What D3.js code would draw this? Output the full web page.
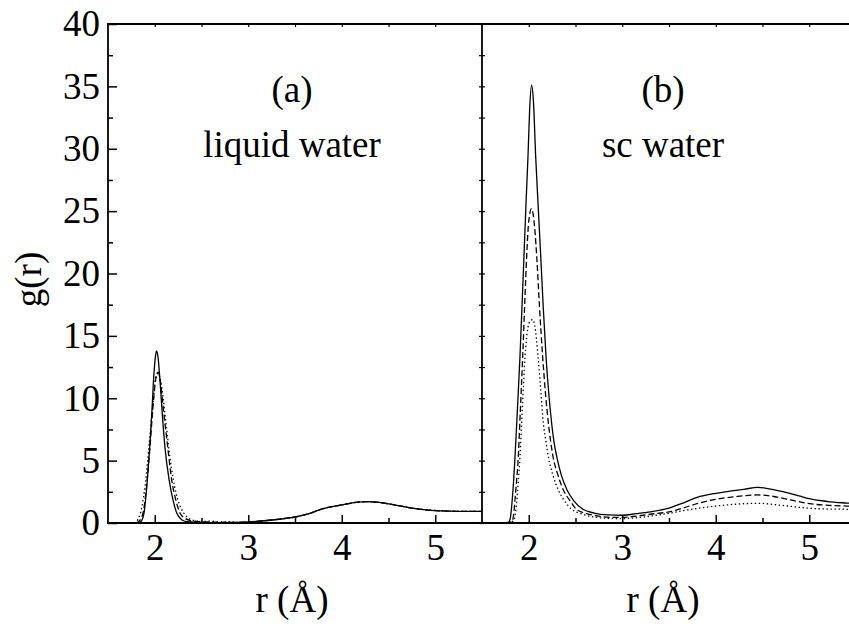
<!DOCTYPE html>
<html>
<head>
<meta charset="utf-8">
<script src="https://cdn.jsdelivr.net/npm/d3@7"></script>
<style>
  html, body { margin: 0; padding: 0; background: #fff; }
  svg { display: block; }
  text { font-family: "Liberation Serif", "Times New Roman", serif; fill: #000; }
</style>
</head>
<body>
<svg id="chart" width="849" height="631"></svg>
<script>
// Radial distribution functions g(r): three curves per panel (solid, dashed, dotted)
const panels = ["liquid water", "sc water"];
const panelTags = ["(a)", "(b)"];

// (a) liquid water
const liqR_solid = [1.75, 1.82, 1.85, 1.885, 1.92, 1.95, 1.97, 1.99, 2.01, 2.02, 2.035, 2.06, 2.08, 2.11, 2.155, 2.20, 2.235, 2.27, 2.30, 2.35, 2.45, 2.6, 2.8, 3.0, 3.2, 3.35, 3.5, 3.65, 3.8, 4.0, 4.15, 4.27, 4.4, 4.5, 4.65, 4.75, 4.9, 5.0, 5.15, 5.3, 5.5];
const liqG_solid = [0, 0, 0.1, 0.8, 3.4, 6.5, 9.0, 11.8, 13.5, 13.8, 13.3, 11.0, 8.8, 6.0, 3.4, 1.7, 0.8, 0.4, 0.2, 0.1, 0.05, 0.03, 0.03, 0.08, 0.2, 0.32, 0.48, 0.75, 1.15, 1.45, 1.65, 1.71, 1.65, 1.53, 1.33, 1.2, 1.06, 1.0, 0.95, 0.93, 0.93];

const liqR_dash = [1.80, 1.84, 1.88, 1.92, 1.95, 1.98, 2.01, 2.035, 2.06, 2.08, 2.10, 2.14, 2.18, 2.22, 2.27, 2.32, 2.38, 2.45, 2.6, 2.8, 3.0, 3.2, 3.35, 3.5, 3.65, 3.8, 4.0, 4.15, 4.27, 4.4, 4.5, 4.65, 4.75, 4.9, 5.0, 5.15, 5.3, 5.5];
const liqG_dash = [0, 0.2, 1.0, 3.5, 6.2, 9.2, 11.5, 12.1, 11.4, 10.0, 8.6, 6.0, 3.5, 2.0, 0.8, 0.4, 0.2, 0.12, 0.08, 0.05, 0.08, 0.2, 0.32, 0.48, 0.75, 1.15, 1.45, 1.65, 1.71, 1.65, 1.53, 1.33, 1.2, 1.06, 1.0, 0.95, 0.93, 0.93];

const liqR_dot = [1.78, 1.82, 1.86, 1.90, 1.94, 1.98, 2.01, 2.035, 2.06, 2.09, 2.12, 2.16, 2.20, 2.25, 2.31, 2.36, 2.42, 2.5, 2.6, 2.7, 2.8, 2.9, 3.0, 3.2, 3.35, 3.5, 3.65, 3.8, 4.0, 4.15, 4.27, 4.4, 4.5, 4.65, 4.75, 4.9, 5.0, 5.15, 5.3, 5.5];
const liqG_dot = [0, 0.3, 1.2, 3.2, 6.3, 9.5, 11.6, 12.0, 11.5, 10.0, 8.0, 5.4, 3.4, 1.8, 0.8, 0.4, 0.2, 0.12, 0.15, 0.06, 0.1, 0.05, 0.08, 0.2, 0.32, 0.48, 0.75, 1.15, 1.45, 1.65, 1.71, 1.65, 1.53, 1.33, 1.2, 1.06, 1.0, 0.95, 0.93, 0.93];

// (b) supercritical water
const scR_solid = [1.70, 1.78, 1.80, 1.83, 1.853, 1.88, 1.906, 1.93, 1.949, 1.97, 1.992, 2.01, 2.03, 2.05, 2.074, 2.10, 2.128, 2.155, 2.185, 2.215, 2.245, 2.27, 2.30, 2.35, 2.41, 2.48, 2.58, 2.7, 2.85, 3.0, 3.15, 3.3, 3.5, 3.65, 3.8, 4.0, 4.15, 4.3, 4.45, 4.6, 4.75, 4.9, 5.0, 5.2, 5.4, 5.5];
const scG_solid = [0, 0.05, 0.3, 2.5, 5.3, 9.3, 13.3, 17.8, 21.4, 25.5, 29.4, 33.2, 35.1, 33.8, 29.4, 25.5, 21.4, 17.3, 13.3, 10.3, 8.0, 6.5, 5.3, 3.8, 2.65, 1.8, 1.1, 0.8, 0.65, 0.62, 0.75, 0.9, 1.2, 1.6, 2.05, 2.38, 2.55, 2.7, 2.86, 2.7, 2.45, 2.15, 1.95, 1.72, 1.6, 1.55];

const scR_dash = [1.75, 1.82, 1.835, 1.86, 1.888, 1.91, 1.935, 1.955, 1.978, 2.0, 2.03, 2.055, 2.085, 2.115, 2.149, 2.18, 2.21, 2.235, 2.26, 2.31, 2.37, 2.44, 2.51, 2.62, 2.75, 2.9, 3.0, 3.15, 3.3, 3.5, 3.65, 3.8, 4.0, 4.2, 4.45, 4.6, 4.8, 5.0, 5.2, 5.4, 5.5];
const scG_dash = [0, 0.1, 0.5, 2.5, 5.3, 9.0, 13.3, 17.2, 21.4, 24.2, 25.2, 24.3, 21.4, 17.3, 13.3, 10.3, 8.0, 6.5, 5.3, 3.9, 2.65, 1.8, 1.1, 0.75, 0.55, 0.45, 0.45, 0.55, 0.7, 0.9, 1.2, 1.55, 1.9, 2.1, 2.25, 2.15, 1.85, 1.55, 1.42, 1.36, 1.33];

const scR_dot = [1.78, 1.84, 1.87, 1.89, 1.906, 1.93, 1.96, 1.99, 2.015, 2.04, 2.065, 2.10, 2.13, 2.156, 2.185, 2.21, 2.26, 2.316, 2.38, 2.46, 2.58, 2.72, 2.85, 3.0, 3.15, 3.3, 3.5, 3.7, 3.85, 4.0, 4.2, 4.45, 4.7, 5.0, 5.2, 5.4, 5.5];
const scG_dot = [0, 0.2, 1.6, 3.5, 5.3, 9.0, 13.3, 15.6, 16.2, 16.3, 15.8, 13.3, 10.5, 8.0, 6.5, 5.3, 3.8, 2.65, 1.8, 1.1, 0.7, 0.45, 0.38, 0.35, 0.42, 0.55, 0.78, 1.05, 1.22, 1.36, 1.5, 1.58, 1.42, 1.18, 1.12, 1.1, 1.08];

// Axis ticks
const yMajor = [0, 5, 10, 15, 20, 25, 30, 35, 40];
const yMinor = [2.5, 7.5, 12.5, 17.5, 22.5, 27.5, 32.5, 37.5];
const xMajor = [2, 3, 4, 5];
const xMinor = [2.5, 3.5, 4.5];
const xDomain = [1.5, 5.5];
const yDomain = [0, 40];
const yTitle = "g(r)";
const xTitle = "r (Å)";

const svg = d3.select("#chart");
const W = 849, H = 631;
const plotTop = 24, plotBottom = 523;
const panelW = 374;
const lefts = [108, 482];
const FS = 37;

const y = d3.scaleLinear().domain(yDomain).range([plotBottom, plotTop]);

const styles = [
  { dash: null },
  { dash: "6,3" },
  { dash: "1.4,2.6" }
];

const series = [
  [[liqR_solid, liqG_solid], [liqR_dash, liqG_dash], [liqR_dot, liqG_dot]],
  [[scR_solid, scG_solid], [scR_dash, scG_dash], [scR_dot, scG_dot]]
];

const defs = svg.append("defs");

panels.forEach((name, p) => {
  const x0 = lefts[p];
  const x = d3.scaleLinear().domain(xDomain).range([x0, x0 + panelW]);
  const right = Math.min(x0 + panelW, W);
  const g = svg.append("g");

  defs.append("clipPath").attr("id", "clip" + p)
    .append("rect").attr("x", x0).attr("y", plotTop - 1).attr("width", right - x0).attr("height", plotBottom - plotTop + 1);

  // curves
  const line = d3.line().x(d => x(d[0])).y(d => y(d[1])).curve(d3.curveMonotoneX);
  series[p].forEach((s, i) => {
    const pts = s[0].map((r, k) => [r, s[1][k]]);
    g.append("path")
      .attr("clip-path", `url(#clip${p})`)
      .attr("d", line(pts))
      .attr("fill", "none")
      .attr("stroke", "#000")
      .attr("stroke-width", 1.3)
      .attr("stroke-dasharray", styles[i].dash);
  });

  // bottom axis with inward ticks
  const bx = g.append("g").attr("transform", `translate(0,${plotBottom})`)
    .call(d3.axisBottom(x).tickValues(xMajor).tickSize(-8).tickPadding(11).tickFormat(d3.format("d")));
  bx.select(".domain").remove();
  bx.selectAll("line").attr("stroke-width", 1.5);
  bx.selectAll("text").attr("font-size", FS).attr("dy", "0.71em");
  const bm = g.append("g").attr("transform", `translate(0,${plotBottom})`)
    .call(d3.axisBottom(x).tickValues(xMinor).tickSize(-5).tickFormat(""));
  bm.select(".domain").remove();
  bm.selectAll("line").attr("stroke-width", 1.5);

  // top axis with short inward ticks
  const tx = g.append("g").attr("transform", `translate(0,${plotTop})`)
    .call(d3.axisTop(x).tickValues(xMajor.concat(xMinor)).tickSize(-3).tickFormat(""));
  tx.select(".domain").remove();
  tx.selectAll("line").attr("stroke-width", 1.2);

  // panel left edge ticks
  if (p === 0) {
    const ly = g.append("g").attr("transform", `translate(${x0},0)`)
      .call(d3.axisLeft(y).tickValues(yMajor).tickSize(-9).tickPadding(8).tickFormat(d3.format("d")));
    ly.select(".domain").remove();
    ly.selectAll("line").attr("stroke-width", 1.5);
    ly.selectAll("text").attr("font-size", FS);
    const lm = g.append("g").attr("transform", `translate(${x0},0)`)
      .call(d3.axisLeft(y).tickValues(yMinor).tickSize(-5).tickFormat(""));
    lm.select(".domain").remove();
    lm.selectAll("line").attr("stroke-width", 1.5);
    // right edge of first panel: short ticks pointing left
    const ry = g.append("g").attr("transform", `translate(${x0 + panelW},0)`)
      .call(d3.axisRight(y).tickValues(yMajor.concat(yMinor)).tickSize(-3).tickFormat(""));
    ry.select(".domain").remove();
    ry.selectAll("line").attr("stroke-width", 1.2);
  } else {
    const ly = g.append("g").attr("transform", `translate(${x0},0)`)
      .call(d3.axisLeft(y).tickValues(yMajor.concat(yMinor)).tickSize(-3).tickFormat(""));
    ly.select(".domain").remove();
    ly.selectAll("line").attr("stroke-width", 1.2);
  }

  // frame
  g.append("line").attr("x1", x0 - 1).attr("x2", right).attr("y1", plotBottom).attr("y2", plotBottom)
    .attr("stroke", "#000").attr("stroke-width", 1.8);
  g.append("line").attr("x1", x0 - 1).attr("x2", right).attr("y1", plotTop).attr("y2", plotTop)
    .attr("stroke", "#000").attr("stroke-width", 1.8);
  g.append("line").attr("x1", x0).attr("x2", x0).attr("y1", plotTop).attr("y2", plotBottom)
    .attr("stroke", "#000").attr("stroke-width", 1.8);

  // panel annotations
  const cx = p === 0 ? 292 : 663;
  g.append("text").attr("x", cx).attr("y", 102).attr("text-anchor", "middle")
    .attr("font-size", FS).text(panelTags[p]);
  g.append("text").attr("x", cx).attr("y", 157).attr("text-anchor", "middle")
    .attr("font-size", FS).text(name);

  // x title
  g.append("text").attr("x", p === 0 ? 292 : 663).attr("y", 612).attr("text-anchor", "middle")
    .attr("font-size", FS).text(xTitle);
});

// y title
svg.append("text")
  .attr("transform", `translate(41,${(plotTop + plotBottom) / 2 + 6}) rotate(-90)`)
  .attr("text-anchor", "middle")
  .attr("font-size", FS)
  .text(yTitle);
</script>
</body>
</html>
